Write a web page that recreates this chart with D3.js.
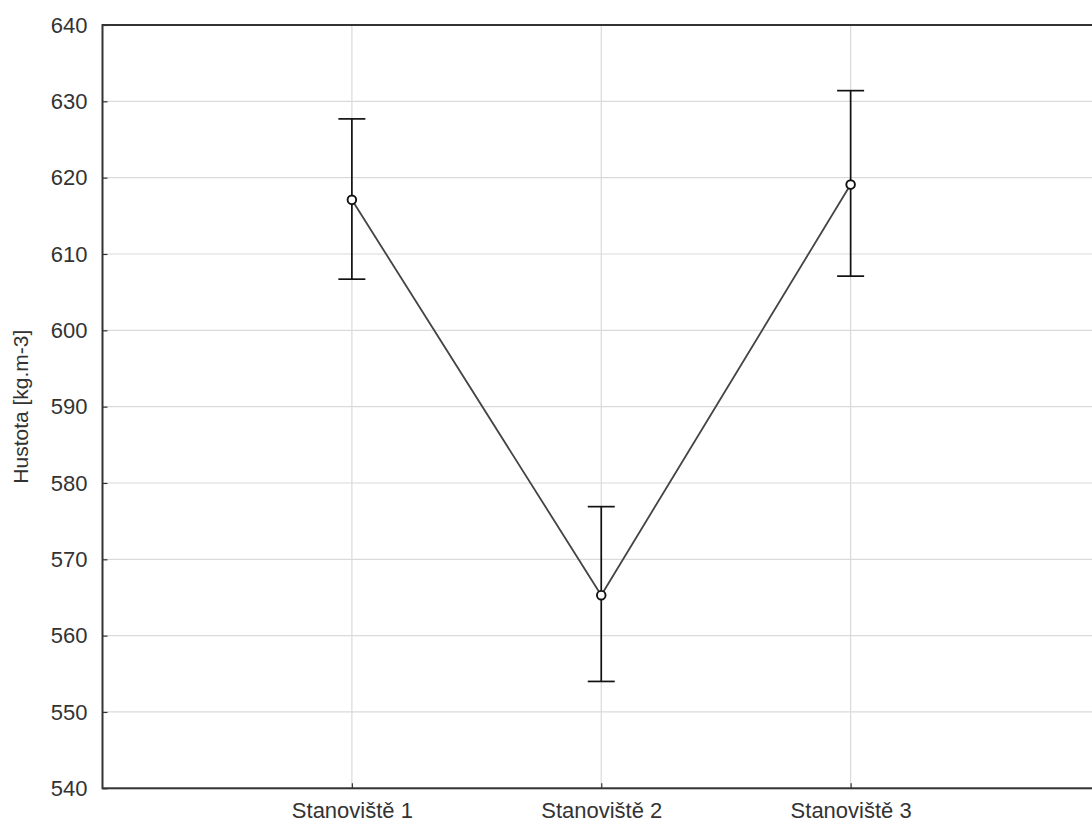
<!DOCTYPE html>
<html>
<head>
<meta charset="utf-8">
<script src="https://cdn.jsdelivr.net/npm/d3@7"></script>
<style>
  html, body { margin: 0; padding: 0; background: #fff; }
  svg { display: block; }
  text { font-family: "Liberation Sans", Arial, sans-serif; fill: #333; }
</style>
</head>
<body>
<svg id="chart" width="1092" height="825"></svg>
<script>
const categories = ["Stanoviště 1", "Stanoviště 2", "Stanoviště 3"];
const means = [617.1, 565.3, 619.1];
const upper = [627.7, 576.9, 631.4];
const lower = [606.7, 554.0, 607.1];
const yTicks = [540, 550, 560, 570, 580, 590, 600, 610, 620, 630, 640];
const yLabel = "Hustota [kg.m-3]";

const svg = d3.select("#chart");
const mLeft = 102.5, mRight = 1100, mTop = 25, mBottom = 788.3;

const x = d3.scaleLinear().domain([0, categories.length + 1]).range([mLeft, mRight]);
const y = d3.scaleLinear().domain([540, 640]).range([mBottom, mTop]);

// grid
svg.append("g").selectAll("line").data(yTicks).join("line")
  .attr("x1", mLeft).attr("x2", mRight)
  .attr("y1", d => y(d)).attr("y2", d => y(d))
  .attr("stroke", "#dadada").attr("stroke-width", 1.2);
svg.append("g").selectAll("line").data(categories).join("line")
  .attr("x1", (d, i) => x(i + 1)).attr("x2", (d, i) => x(i + 1))
  .attr("y1", mTop).attr("y2", mBottom)
  .attr("stroke", "#dadada").attr("stroke-width", 1.2);

// axes
const yAxis = d3.axisLeft(y).tickValues(yTicks).tickSize(-5).tickPadding(15).tickFormat(d3.format("d"));
const gy = svg.append("g").attr("transform", `translate(${mLeft},0)`).call(yAxis);
gy.select(".domain").remove();
gy.selectAll(".tick line").attr("stroke", "#333").attr("stroke-width", 1.2);
gy.selectAll(".tick text").style("font-size", "22px").attr("fill", "#333")
  .style("font-family", "'Liberation Sans', Arial, sans-serif");

const xAxis = d3.axisBottom(x).tickValues(categories.map((d, i) => i + 1))
  .tickSize(-5).tickPadding(14).tickFormat(d => categories[d - 1]);
const gx = svg.append("g").attr("transform", `translate(0,${mBottom})`).call(xAxis);
gx.select(".domain").remove();
gx.selectAll(".tick line").attr("stroke", "#333").attr("stroke-width", 1.2);
gx.selectAll(".tick text").style("font-size", "22px").attr("fill", "#333")
  .style("font-family", "'Liberation Sans', Arial, sans-serif");

// frame
svg.append("rect").attr("x", mLeft).attr("y", mTop)
  .attr("width", mRight - mLeft).attr("height", mBottom - mTop)
  .attr("fill", "none").attr("stroke", "#333").attr("stroke-width", 2);

// y label
svg.append("text")
  .attr("transform", `translate(28,${(mTop + mBottom) / 2}) rotate(-90)`)
  .attr("text-anchor", "middle")
  .style("font-size", "21px")
  .text(yLabel);

// connecting line
const line = d3.line().x((d, i) => x(i + 1)).y(d => y(d));
svg.append("path").datum(means).attr("d", line)
  .attr("fill", "none").attr("stroke", "#444").attr("stroke-width", 1.8);

// error bars
const eb = svg.append("g").attr("stroke", "#111").attr("stroke-width", 1.7);
eb.selectAll("line.v").data(means).join("line").attr("class", "v")
  .attr("x1", (d, i) => x(i + 1)).attr("x2", (d, i) => x(i + 1))
  .attr("y1", (d, i) => y(upper[i])).attr("y2", (d, i) => y(lower[i]));
eb.selectAll("line.t").data(means).join("line").attr("class", "t")
  .attr("x1", (d, i) => x(i + 1) - 13.5).attr("x2", (d, i) => x(i + 1) + 13.5)
  .attr("y1", (d, i) => y(upper[i])).attr("y2", (d, i) => y(upper[i]));
eb.selectAll("line.b").data(means).join("line").attr("class", "b")
  .attr("x1", (d, i) => x(i + 1) - 13.5).attr("x2", (d, i) => x(i + 1) + 13.5)
  .attr("y1", (d, i) => y(lower[i])).attr("y2", (d, i) => y(lower[i]));

// points
svg.append("g").selectAll("circle").data(means).join("circle")
  .attr("cx", (d, i) => x(i + 1)).attr("cy", d => y(d))
  .attr("r", 4.3).attr("fill", "#fff").attr("stroke", "#111").attr("stroke-width", 1.9);
</script>
</body>
</html>
